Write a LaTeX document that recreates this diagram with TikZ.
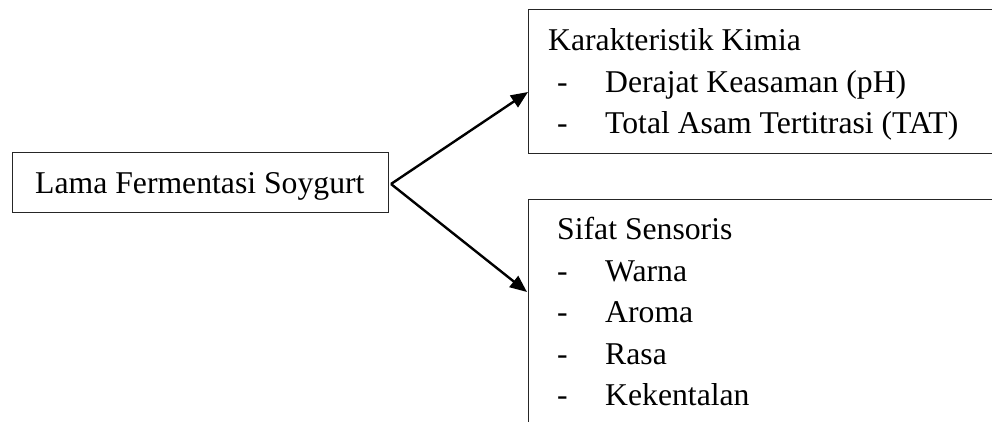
\documentclass[tikz,border=0pt]{standalone}
\usepackage{fontspec}
\setmainfont{Liberation Serif}
\usetikzlibrary{arrows.meta}
\begin{document}
\begin{tikzpicture}[x=1pt,y=-1pt,
  txt/.style={anchor=base west,inner sep=0pt,font=\fontsize{31.7}{38}\selectfont},
  boxline/.style={draw=black!85,line width=1pt},
  conn/.style={line width=2.4pt,-{Triangle[length=17pt,width=14pt]}}]
\useasboundingbox (0,0) rectangle (992,421);
\clip (0,0) rectangle (992,421);
% left box
\draw[boxline] (12,152) rectangle (388,212);
\node[txt] (lama) at (35,193) {Lama Fermentasi Soygurt};
% top box
\draw[boxline] (528,9.5) rectangle (1010,153);
\node[txt] (kk) at (548,50) {Karakteristik Kimia};
\node[txt] (d1) at (557,92) {-};
\node[txt] (i1) at (605,92) {Derajat Keasaman (pH)};
\node[txt] (d2) at (557,133.5) {-};
\node[txt] (i2) at (605,133.5) {Total Asam Tertitrasi (TAT)};
% bottom box
\draw[boxline] (528,199) rectangle (1010,440);
\node[txt] (ss) at (557,239) {Sifat Sensoris};
\node[txt] (d3) at (557,281) {-};
\node[txt] (i3) at (605,281) {Warna};
\node[txt] (d4) at (557,322.5) {-};
\node[txt] (i4) at (605,322.5) {Aroma};
\node[txt] (d5) at (557,364) {-};
\node[txt] (i5) at (605,364) {Rasa};
\node[txt] (d6) at (557,405.5) {-};
\node[txt] (i6) at (605,405.5) {Kekentalan};
% connectors
\coordinate (src) at (391,184);
\coordinate (tipA) at (528,92);
\coordinate (tipB) at (527,292);
\draw[conn] (src) -- (tipA);
\draw[conn] (src) -- (tipB);
\end{tikzpicture}
\end{document}
